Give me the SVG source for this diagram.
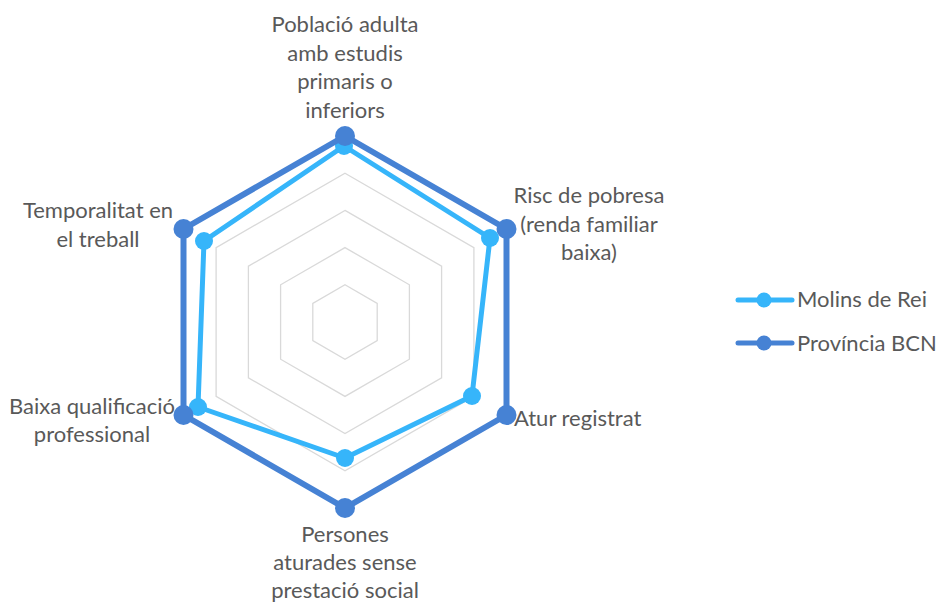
<svg xmlns="http://www.w3.org/2000/svg" width="936" height="602" viewBox="0 0 936 602">
<style>
.grid{fill:none;stroke:#D9D9D9;stroke-width:1.3}
.lbl{font-family:Lato,"Open Sans","Liberation Sans",sans-serif;font-size:22px;fill:#595959}
.mid{text-anchor:middle}
.molins{fill:none;stroke:#36B5FA;stroke-width:5;stroke-linejoin:round}
.prov{fill:none;stroke:#4682D4;stroke-width:6;stroke-linejoin:round}
.mm{fill:#36B5FA}
.pm{fill:#4682D4}
</style>
<rect width="936" height="602" fill="#FFFFFF"/>
<g id="grid">
<polygon class="grid" points="345,284.8 377.2,303.4 377.2,340.6 345,359.2 312.8,340.6 312.8,303.4"/>
<polygon class="grid" points="345,247.6 409.4,284.8 409.4,359.2 345,396.4 280.6,359.2 280.6,284.8"/>
<polygon class="grid" points="345,210.4 441.6,266.2 441.6,377.8 345,433.6 248.4,377.8 248.4,266.2"/>
<polygon class="grid" points="345,173.2 473.9,247.6 473.9,396.4 345,470.8 216.1,396.4 216.1,247.6"/>
<polygon class="grid" points="345,136 506.5,229 506.5,415 345,508 183.5,415 183.5,229"/>
</g>
<g id="connectors">
<g id="series-molins">
<polygon class="molins" points="344,146 490,238 472,396 345,458 198,407 204,241"/>
<circle class="mm" cx="344" cy="146" r="9"/>
<circle class="mm" cx="490" cy="238" r="9"/>
<circle class="mm" cx="472" cy="396" r="9"/>
<circle class="mm" cx="345" cy="458" r="9"/>
<circle class="mm" cx="198" cy="407" r="9"/>
<circle class="mm" cx="204" cy="241" r="9"/>
</g>
<g id="series-provincia">
<polygon class="prov" points="345,136 506.5,229 506.5,415 345,508 183.5,415 183.5,229"/>
<circle class="pm" cx="345" cy="136" r="10"/>
<circle class="pm" cx="506.5" cy="229" r="10"/>
<circle class="pm" cx="506.5" cy="415" r="10"/>
<circle class="pm" cx="345" cy="508" r="10"/>
<circle class="pm" cx="183.5" cy="415" r="10"/>
<circle class="pm" cx="183.5" cy="229" r="10"/>
</g>
</g>
<g id="label-poblacio" class="lbl mid">
<text x="345" y="32">Població adulta</text>
<text x="345" y="61">amb estudis</text>
<text x="345" y="89">primaris o</text>
<text x="345" y="118">inferiors</text>
</g>
<g id="label-risc" class="lbl mid">
<text x="589" y="203">Risc de pobresa</text>
<text x="589" y="232">(renda familiar</text>
<text x="589" y="260">baixa)</text>
</g>
<g id="label-atur" class="lbl">
<text x="514" y="426">Atur registrat</text>
</g>
<g id="label-persones" class="lbl mid">
<text x="345" y="542">Persones</text>
<text x="345" y="570">aturades sense</text>
<text x="345" y="598">prestació social</text>
</g>
<g id="label-baixa" class="lbl mid">
<text x="92" y="414">Baixa qualificació</text>
<text x="92" y="442">professional</text>
</g>
<g id="label-temporalitat" class="lbl mid">
<text x="98" y="218">Temporalitat en</text>
<text x="98" y="247">el treball</text>
</g>
<g id="legend">
<g id="legend-molins">
<line x1="738" y1="300" x2="792" y2="300" stroke="#36B5FA" stroke-width="5" stroke-linecap="round"/>
<circle class="mm" cx="764" cy="300" r="7.5"/>
<text class="lbl" x="797" y="307">Molins de Rei</text>
</g>
<g id="legend-provincia">
<line x1="738" y1="343" x2="792" y2="343" stroke="#4682D4" stroke-width="5" stroke-linecap="round"/>
<circle class="pm" cx="764" cy="343" r="7.5"/>
<text class="lbl" x="797" y="351">Província BCN</text>
</g>
</g>
</svg>
